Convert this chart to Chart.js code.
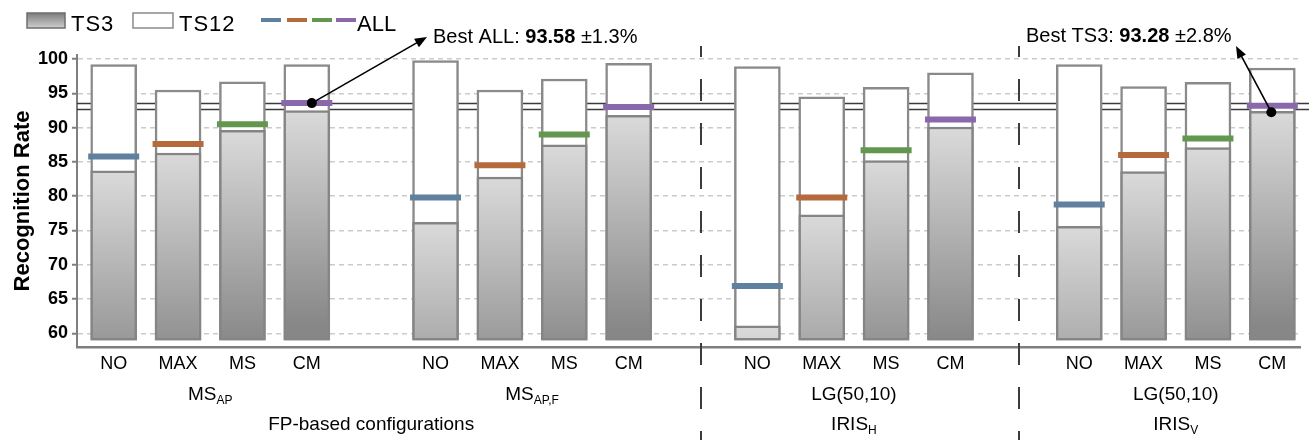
<!DOCTYPE html>
<html>
<head>
<meta charset="utf-8">
<script src="https://cdn.jsdelivr.net/npm/chart.js@4.4.0/dist/chart.umd.min.js"></script>
<style>
  html, body { margin: 0; padding: 0; background: #fff; }
  #wrap { width: 1309px; height: 440px; position: relative; }
</style>
</head>
<body>
<div id="wrap"><canvas id="chart"></canvas></div>
<script>
// methods per configuration group
const methods = ['NO', 'MAX', 'MS', 'CM'];
const groupNames = [['MS', 'AP'], ['MS', 'AP,F'], ['LG(50,10)', ''], ['LG(50,10)', '']];
const sourceNames = [['FP-based configurations', ''], ['IRIS', 'H'], ['IRIS', 'V']];

// recognition rates (%), 4 groups x 4 methods
const ts3  = [83.7, 86.3, 89.6, 92.5,  76.2, 82.8, 87.5, 91.8,  61.1, 77.3, 85.2, 90.1,  75.6, 83.6, 87.1, 92.4];
const ts12 = [99.2, 95.5, 96.7, 99.2,  99.8, 95.5, 97.1, 99.4,  98.9, 94.5, 95.9, 98.0,  99.2, 96.0, 96.6, 98.7];
const all  = [85.8, 87.6, 90.5, 93.58, 79.8, 84.5, 89.0, 93.0,  66.9, 79.8, 86.7, 91.2,  78.8, 86.0, 88.4, 93.2];
const allColors = ['#60809f', '#b6693b', '#63974f', '#8a69ab'];

const yTicks = [60, 65, 70, 75, 80, 85, 90, 95, 100];
const baseValue = 59;
const refLines = [93.53, 92.65];

// slot on the x axis: one empty slot between groups
const slots = ts3.map((v, i) => i + Math.floor(i / 4));
const labels = ts3.map((v, i) => methods[i % 4]);

const FONT = "'Liberation Sans', Arial, sans-serif";

function grayFill(c) {
  const chart = c.chart;
  if (!chart.chartArea || !c.raw) return '#b0b0b0';
  const top = chart.scales.y.getPixelForValue(c.raw.y[1]);
  const g = chart.ctx.createLinearGradient(0, top, 0, top + 215);
  g.addColorStop(0, '#dadada');
  g.addColorStop(1, '#878787');
  return g;
}

function drawSubText(ctx, main, sub, cx, y, size) {
  ctx.font = size + 'px ' + FONT;
  const w1 = ctx.measureText(main).width;
  ctx.font = Math.round(size * 0.62) + 'px ' + FONT;
  const w2 = sub ? ctx.measureText(sub).width : 0;
  const x0 = cx - (w1 + w2) / 2;
  ctx.textAlign = 'left';
  ctx.textBaseline = 'alphabetic';
  ctx.font = size + 'px ' + FONT;
  ctx.fillText(main, x0, y);
  if (sub) {
    ctx.font = Math.round(size * 0.62) + 'px ' + FONT;
    ctx.fillText(sub, x0 + w1, y + 4);
  }
}

function drawArrow(ctx, x1, y1, x2, y2) {
  const ang = Math.atan2(y2 - y1, x2 - x1);
  const len = 13;
  ctx.beginPath();
  ctx.moveTo(x1, y1);
  ctx.lineTo(x2 - Math.cos(ang) * len * 0.8, y2 - Math.sin(ang) * len * 0.8);
  ctx.stroke();
  ctx.beginPath();
  ctx.moveTo(x2, y2);
  ctx.lineTo(x2 - len * Math.cos(ang - 0.38), y2 - len * Math.sin(ang - 0.38));
  ctx.lineTo(x2 - len * Math.cos(ang + 0.38), y2 - len * Math.sin(ang + 0.38));
  ctx.closePath();
  ctx.fill();
}

function richText(ctx, parts, x, y, size) {
  ctx.textAlign = 'left';
  ctx.textBaseline = 'alphabetic';
  parts.forEach(p => {
    ctx.font = (p[1] ? 'bold ' : '') + size + 'px ' + FONT;
    ctx.fillText(p[0], x, y);
    x += ctx.measureText(p[0]).width;
  });
}

const decorations = {
  id: 'decorations',
  beforeDatasetsDraw(chart) {
    const {ctx, chartArea, scales} = chart;
    ctx.save();
    ctx.strokeStyle = '#3a3a3a';
    ctx.lineWidth = 1.3;
    refLines.forEach(v => {
      const y = Math.round(scales.y.getPixelForValue(v)) + 0.5;
      ctx.beginPath();
      ctx.moveTo(chartArea.left, y);
      ctx.lineTo(chart.width, y);
      ctx.stroke();
    });
    ctx.restore();
  },
  afterDraw(chart) {
    const {ctx, scales} = chart;
    const x = scales.x, y = scales.y;
    ctx.save();

    // group separators
    ctx.strokeStyle = '#3c3c3c';
    ctx.lineWidth = 2;
    ctx.setLineDash([22, 22]);
    ctx.lineDashOffset = 11;
    [9.13, 14.06].forEach(s => {
      const px = Math.round(x.getPixelForValue(s));
      ctx.beginPath();
      ctx.moveTo(px, 46);
      ctx.lineTo(px, 440);
      ctx.stroke();
    });
    ctx.setLineDash([]);

    // group and source labels
    ctx.fillStyle = '#000';
    groupNames.forEach((g, i) => {
      const cx = x.getPixelForValue(slots[i * 4] + 1.5);
      drawSubText(ctx, g[0], g[1], cx, 400, 19);
    });
    const c12 = (x.getPixelForValue(slots[0]) + x.getPixelForValue(slots[7])) / 2;
    drawSubText(ctx, sourceNames[0][0], '', c12, 430, 19);
    [2, 3].forEach((gi, k) => {
      const cx = x.getPixelForValue(slots[gi * 4] + 1.5);
      drawSubText(ctx, sourceNames[k + 1][0], sourceNames[k + 1][1], cx, 430, 19);
    });

    // best-value annotations
    ctx.fillStyle = '#000';
    ctx.strokeStyle = '#000';
    ctx.lineWidth = 1.6;
    const d1x = x.getPixelForValue(slots[3]) + 5, d1y = y.getPixelForValue(all[3]);
    const d2x = x.getPixelForValue(slots[15]) - 1, d2y = y.getPixelForValue(ts3[15]) + 1;
    drawArrow(ctx, d1x, d1y, 427, 37);
    drawArrow(ctx, d2x, d2y, 1236, 46);
    [[d1x, d1y], [d2x, d2y]].forEach(d => {
      ctx.beginPath();
      ctx.arc(d[0], d[1], 5, 0, Math.PI * 2);
      ctx.fill();
    });
    richText(ctx, [['Best ALL: ', false], ['93.58', true], [' \u00b11.3%', false]], 433, 43, 20);
    richText(ctx, [['Best TS3: ', false], ['93.28', true], [' \u00b12.8%', false]], 1026, 42, 20);

    // legend
    const lg = ctx.createLinearGradient(0, 13, 0, 28);
    lg.addColorStop(0, '#7c7c7c');
    lg.addColorStop(1, '#cfcfcf');
    ctx.fillStyle = lg;
    ctx.fillRect(27, 13, 38, 15);
    ctx.strokeStyle = '#6e6e6e';
    ctx.lineWidth = 1.5;
    ctx.strokeRect(27, 13, 38, 15);
    ctx.fillStyle = '#fff';
    ctx.fillRect(133, 13, 40, 15);
    ctx.strokeStyle = '#8a8a8a';
    ctx.strokeRect(133, 13, 40, 15);
    ctx.fillStyle = '#000';
    ctx.font = '22px ' + FONT;
    ctx.textAlign = 'left';
    ctx.textBaseline = 'alphabetic';
    ctx.letterSpacing = '1px';
    ctx.fillText('TS3', 71, 31);
    ctx.fillText('TS12', 179, 31);
    ctx.letterSpacing = '0px';
    ctx.fillText('ALL', 357, 31);
    ctx.lineWidth = 4;
    [261, 287, 312, 336].forEach((lx, i) => {
      ctx.strokeStyle = allColors[i];
      ctx.beginPath();
      ctx.moveTo(lx, 20);
      ctx.lineTo(lx + 20, 20);
      ctx.stroke();
    });
    ctx.restore();
  }
};

new Chart(document.getElementById('chart'), {
  type: 'bar',
  data: {
    datasets: [
      {
        label: 'ALL',
        type: 'line',
        order: 0,
        data: all.map((v, i) => ({x: slots[i], y: v})),
        showLine: false,
        pointStyle: 'line',
        pointRadius: 25.5,
        pointBorderWidth: 6,
        pointBorderColor: all.map((v, i) => allColors[i % 4]),
        pointBackgroundColor: 'rgba(0,0,0,0)'
      },
      {
        label: 'TS3',
        order: 1,
        data: ts3.map((v, i) => ({x: slots[i], y: [baseValue, v]})),
        backgroundColor: grayFill,
        borderColor: '#858585',
        borderWidth: 2.5,
        borderSkipped: false,
        barThickness: 46,
        grouped: false
      },
      {
        label: 'TS12',
        order: 2,
        data: ts12.map((v, i) => ({x: slots[i], y: [baseValue, v]})),
        backgroundColor: '#ffffff',
        borderColor: '#8a8a8a',
        borderWidth: 2.5,
        borderSkipped: false,
        barThickness: 46,
        grouped: false
      }
    ]
  },
  options: {
    responsive: true,
    maintainAspectRatio: false,
    animation: false,
    events: [],
    layout: { autoPadding: false, padding: { top: 55, right: 9, left: 0, bottom: 0 } },
    plugins: {
      legend: { display: false },
      tooltip: { enabled: false }
    },
    scales: {
      x: {
        type: 'linear',
        offset: false,
        min: -0.57,
        max: 18.43,
        afterFit: s => { s.height = 93; s.paddingLeft = 0; s.paddingRight = 0; },
        afterBuildTicks: s => { s.ticks = slots.map(v => ({value: v})); },
        grid: { display: false, drawTicks: false },
        border: { color: '#7f7f7f', width: 2.5 },
        ticks: {
          autoSkip: false,
          maxRotation: 0,
          padding: 6,
          color: '#000',
          font: { family: FONT, size: 18 },
          callback: (v, i) => labels[i]
        }
      },
      y: {
        min: 58,
        max: 100.6,
        afterFit: s => { s.width = 77; },
        afterBuildTicks: s => { s.ticks = yTicks.map(v => ({value: v})); },
        grid: {
          color: '#cbcbcb',
          lineWidth: 1.5,
          tickLength: 5,
          tickColor: '#7f7f7f',
          tickWidth: 2,
          tickBorderDash: []
        },
        border: { color: '#7f7f7f', width: 2, dash: [5, 4] },
        ticks: {
          padding: 4,
          color: '#000',
          font: { family: FONT, size: 18, weight: 'bold' }
        },
        title: {
          display: true,
          text: 'Recognition Rate',
          color: '#000',
          font: { family: FONT, size: 22, weight: 'bold' },
          padding: { top: 10, bottom: 0 }
        }
      }
    }
  },
  plugins: [decorations]
});
</script>
</body>
</html>
